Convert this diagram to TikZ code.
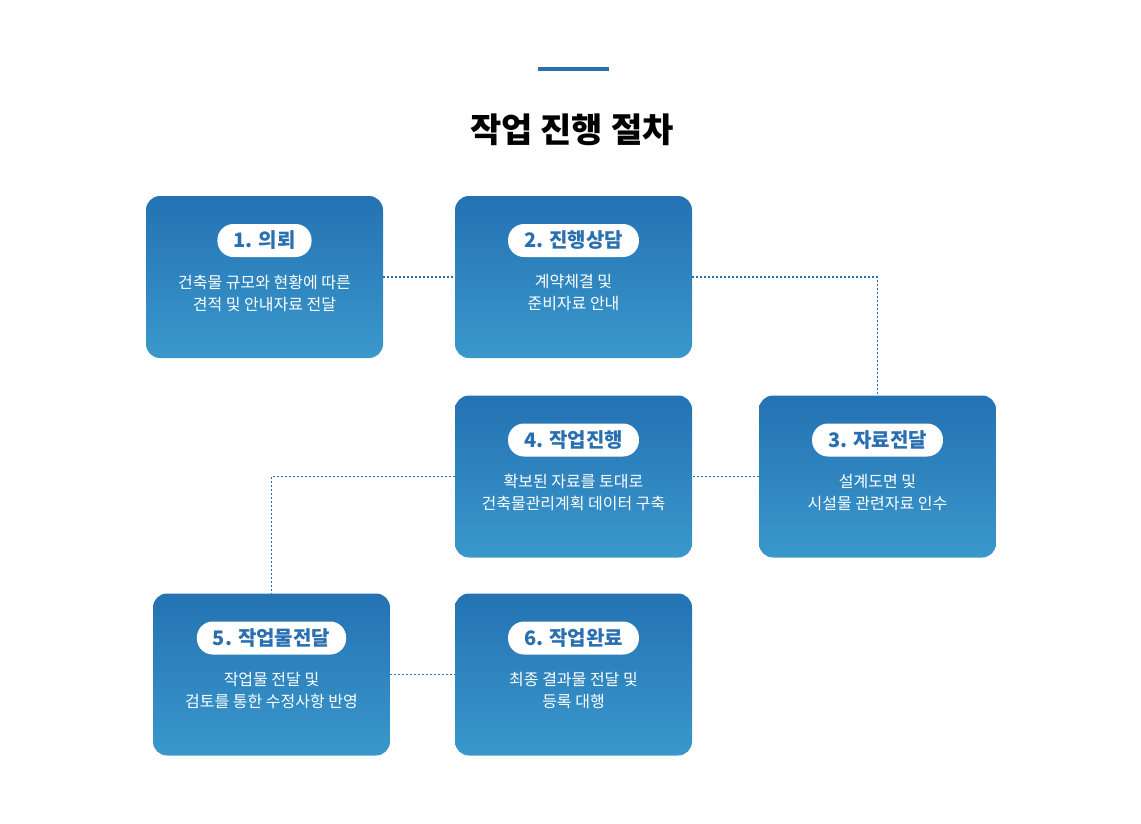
\documentclass[tikz,border=0pt]{standalone}
\usepackage{fontspec}
\setmainfont{Noto Sans CJK KR}
\usetikzlibrary{positioning}
\definecolor{stepdark}{HTML}{2472B3}
\definecolor{steplight}{HTML}{3A98CB}
\definecolor{stepblue}{HTML}{2A6FB0}

\begin{document}
\begin{tikzpicture}[x=1pt,y=-1pt]
    \tikzstyle{step box}=[rounded corners=14pt,minimum width=237pt,minimum height=162pt,
        top color=stepdark,bottom color=steplight,draw=none,inner sep=0pt]
    \tikzstyle{step pill}=[fill=white,rounded corners=16pt,minimum height=33pt,inner xsep=16pt,
        text=stepblue,font=\fontsize{20}{22}\selectfont\bfseries]
    \tikzstyle{step text}=[text=white,align=center,font=\fontsize{16}{22}\selectfont]
    \tikzstyle{step link}=[draw=stepblue,line width=1.2pt,dash pattern=on 2pt off 2pt]

    \useasboundingbox (0,0) rectangle (1141,823);

    % Title
    \draw[stepblue,line width=4pt] (538,69) -- (609,69);
    \node[font=\fontsize{34}{36}\selectfont\bfseries] (title) at (572,130) {작업 진행 절차};

    % Step boxes
    \foreach \name/\x/\y/\head/\body in {
        B1/264.5/277/1. 의뢰/건축물 규모와 현황에 따른\\견적 및 안내자료 전달,
        B2/573.5/277/2. 진행상담/계약체결 및\\준비자료 안내,
        B3/877.5/476.5/3. 자료전달/설계도면 및\\시설물 관련자료 인수,
        B4/573.5/476.5/4. 작업진행/확보된 자료를 토대로\\건축물관리계획 데이터 구축,
        B5/271.5/674.5/5. 작업물전달/작업물 전달 및\\검토를 통한 수정사항 반영,
        B6/573.5/674.5/6. 작업완료/최종 결과물 전달 및\\등록 대행}
    {
        \node[step box] (\name) at (\x,\y) {};
        \node[step pill,below=28pt of \name.north,anchor=north] (\name-head) {\head};
        \node[step text,below=14pt of \name-head] (\name-body) {\body};
    }

    % Connect the steps
    \path[step link] (B1.east) -- (B2.west);
    \path[step link] (B2.east) -| (B3.north);
    \path[step link] (B3.west) -- (B4.east);
    \path[step link] (B4.west) -| (B5.north);
    \path[step link] (B5.east) -- (B6.west);
\end{tikzpicture}
\end{document}
